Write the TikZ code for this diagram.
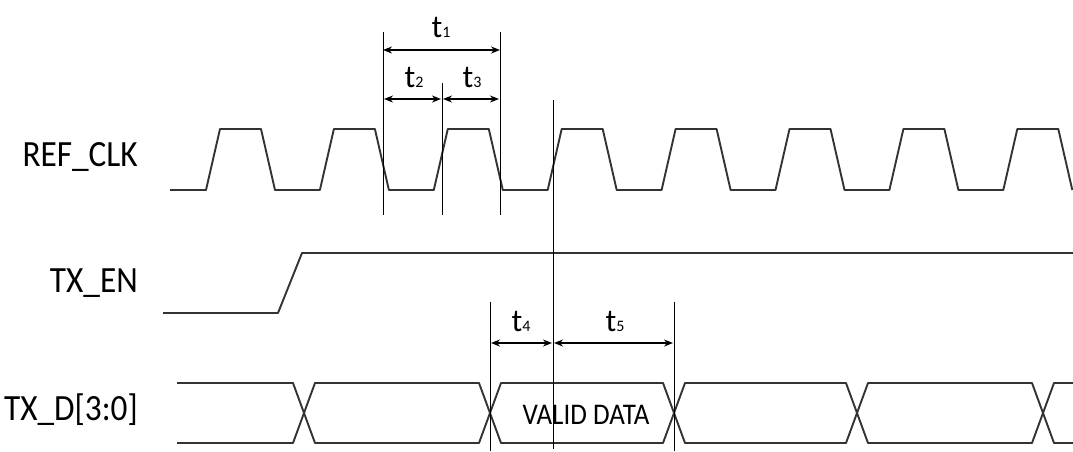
\documentclass[tikz,border=0pt]{standalone}
\usepackage{fontspec}
\setmainfont{Carlito}
\newfontfamily\narrowfont[FakeStretch=0.9]{Carlito}
\usetikzlibrary{arrows.meta}
\newcommand\tlabsub[1]{t{\fontsize{16}{16}\selectfont #1}}
\begin{document}
\begin{tikzpicture}[x=1pt,y=-1pt,
  wave/.style={draw=black!80, line width=1.9pt, line join=round},
  guide/.style={draw=black, line width=1pt},
  dim/.style={draw=black, line width=1.6pt, {Stealth[length=9pt,width=7pt]}-{Stealth[length=9pt,width=7pt]}},
  sig/.style={font=\narrowfont\fontsize{37}{40}\selectfont, anchor=east, inner sep=0pt},
  tlab/.style={font=\fontsize{32}{32}\selectfont, inner sep=0pt},
  datalab/.style={font=\narrowfont\fontsize{30}{32}\selectfont, inner sep=0pt}]
\useasboundingbox (0,0) rectangle (1073,451);

% signal names
\node[sig] (refclk) at (138,157) {REF\_CLK};
\node[sig] (txen) at (138,283) {TX\_EN};
\node[sig] (txd) at (138,410) {TX\_D[3:0]};

% REF_CLK waveform
\draw[wave] (170,190)
  \foreach \k in {0,...,7}{
    -- ({220+113.9*\k-14},190) -- ({220+113.9*\k},129)
    -- ({220+113.9*\k+41},129) -- ({220+113.9*\k+55},190) };

% TX_EN waveform
\draw[wave] (163,313) -- (278,313) -- (302,253) -- (1073,253);

% TX_D waveform
\draw[wave] (177,383) -- (293,383) -- (315,443) -- (479,443) -- (501,383)
  -- (663,383) -- (685,443) -- (846,443) -- (868,383) -- (1032,383)
  -- (1054,443) -- (1073,443);
\draw[wave] (177,443) -- (293,443) -- (315,383) -- (479,383) -- (501,443)
  -- (663,443) -- (685,383) -- (846,383) -- (868,443) -- (1032,443)
  -- (1054,383) -- (1073,383);
\node[datalab] (valid) at (586,415) {VALID DATA};

% guide lines
\coordinate (ga-t) at (383,32);  \coordinate (ga-b) at (383,215);
\coordinate (gb-t) at (442,83);  \coordinate (gb-b) at (442,215);
\coordinate (gc-t) at (500,32);  \coordinate (gc-b) at (500,215);
\coordinate (gd-t) at (553,100); \coordinate (gd-b) at (553,449);
\coordinate (ge-t) at (490,302); \coordinate (ge-b) at (490,451);
\coordinate (gf-t) at (674,302); \coordinate (gf-b) at (674,451);
\foreach \g in {ga,gb,gc,gd,ge,gf}{\draw[guide] (\g-t) -- (\g-b);}

% dimension arrows
\coordinate (a1l) at (383,50);  \coordinate (a1r) at (500,50);
\coordinate (a2l) at (383,99);  \coordinate (a2r) at (442,99);
\coordinate (a3l) at (442,99);  \coordinate (a3r) at (500,99);
\coordinate (a4l) at (490,343); \coordinate (a4r) at (553,343);
\coordinate (a5l) at (553,343); \coordinate (a5r) at (674,343);
\draw[dim] (a1l) -- (a1r);
\draw[dim] ([xshift=1pt]a2l) -- ([xshift=-1pt]a2r);
\draw[dim] ([xshift=1pt]a3l) -- ([xshift=-1pt]a3r);
\draw[dim] ([xshift=1pt]a4l) -- ([xshift=-1pt]a4r);
\draw[dim] ([xshift=1pt]a5l) -- ([xshift=-1pt]a5r);

% time labels
\node[tlab] (t1) at (441,27) {\tlabsub{1}};
\node[tlab] (t2) at (414,77) {\tlabsub{2}};
\node[tlab] (t3) at (472,77) {\tlabsub{3}};
\node[tlab] (t4) at (521,321) {\tlabsub{4}};
\node[tlab] (t5) at (615,321) {\tlabsub{5}};
\end{tikzpicture}
\end{document}
